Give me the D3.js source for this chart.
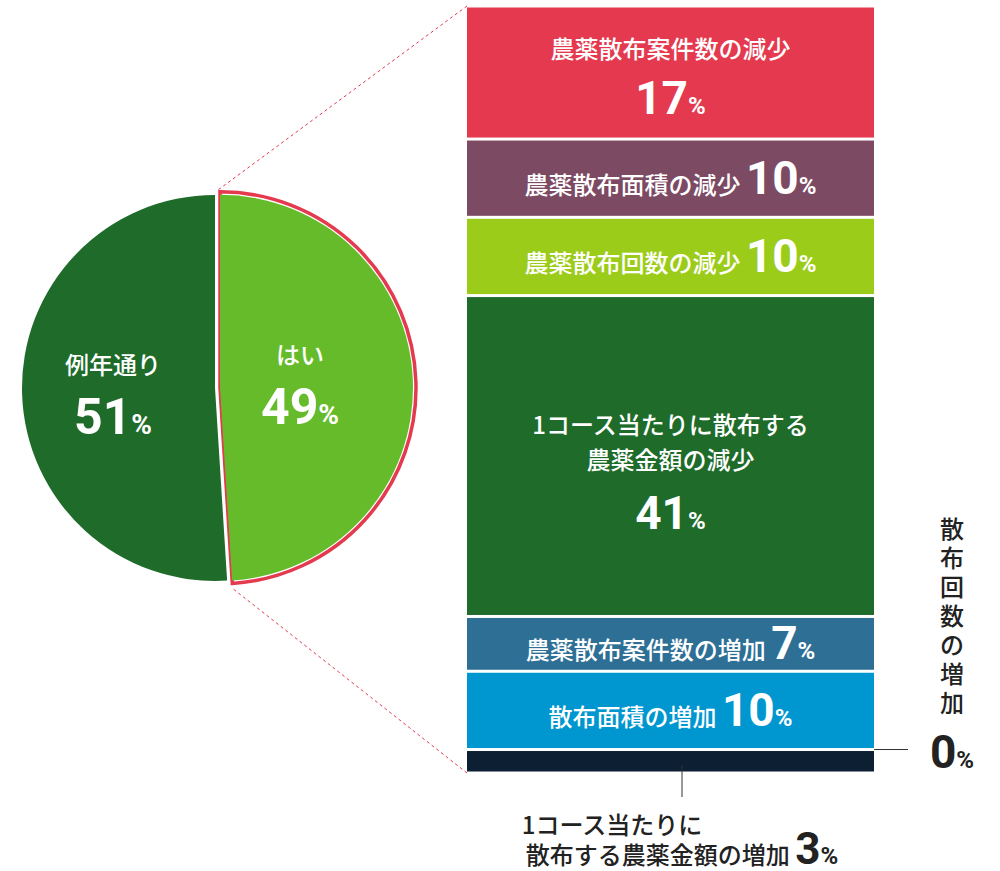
<!DOCTYPE html>
<html><head><meta charset="utf-8">
<script src="https://cdn.jsdelivr.net/npm/d3@7"></script>
<style>
body{margin:0;background:#fff}
text{font-family:"Noto Sans CJK JP",sans-serif;font-weight:500}
.num{font-family:"Liberation Sans Narrow","Roboto",sans-serif;font-weight:bold}
</style></head>
<body><svg id="chart" width="1000" height="871"></svg>
<script>
// Pie data
const pieLabels = ["はい", "例年通り"];
const pieValues = [49, 51];
const pieColors = ["#66bb2a", "#1e6b2a"];

// Breakdown bar data (top to bottom)
const barLabels = ["農薬散布案件数の減少", "農薬散布面積の減少", "農薬散布回数の減少",
  "1コース当たりに散布する|農薬金額の減少", "農薬散布案件数の増加", "散布面積の増加",
  "散布回数の増加", "1コース当たりに|散布する農薬金額の増加"];
const barValues = [17, 10, 10, 41, 7, 10, 0, 3];
const barColors = ["#e4394e", "#7d4a63", "#9ccc1a", "#1e6b2a", "#2e6f96", "#0096d0", "#ffffff", "#0d1f33"];

const svg = d3.select("#chart");

function pct(sel, v, big, small) {
  sel.append("tspan").attr("class", "num").attr("font-size", big).text(v);
  sel.append("tspan").attr("class", "num").attr("font-size", small).text("%");
}

// Pie
const cx = 215, cy = 388, r = 193;
const pie = d3.pie().sort(null).value(d => d)(pieValues);
const arc = d3.arc().innerRadius(0).outerRadius(r);
const pg = svg.append("g").attr("transform", `translate(${cx},${cy})`);

pie.forEach((p, i) => {
  const mid = (p.startAngle + p.endAngle) / 2;
  const off = i === 0 ? 5 : 0;
  const g = pg.append("g")
    .attr("transform", `translate(${Math.sin(mid) * off},${-Math.cos(mid) * off})`);
  if (i === 0) {
    g.append("path")
      .attr("d", d3.arc().innerRadius(0).outerRadius(r + 3)(p))
      .attr("fill", "#fff").attr("stroke", "#e4394e").attr("stroke-width", 3.5);
  }
  g.append("path").attr("d", arc(p)).attr("fill", pieColors[i]);
});

// Pie labels
const pl = [{x: 113, y1: 374, y2: 434}, {x: 300, y1: 364, y2: 424}];
[1, 0].forEach(i => {
  const pos = i === 1 ? pl[0] : pl[1];
  svg.append("text").attr("x", pos.x).attr("y", pos.y1).attr("text-anchor", "middle")
    .attr("fill", "#fff").attr("font-size", 24).text(pieLabels[i]);
  pct(svg.append("text").attr("x", pos.x).attr("y", pos.y2).attr("text-anchor", "middle")
    .attr("fill", "#fff"), pieValues[i], 50, 28);
});

// Stacked bar
const bx = 467, bw = 407;
const total = d3.sum(barValues);
const y = d3.scaleLinear().domain([0, total]).range([6, 773]);
let acc = 0;
const segs = barValues.map((v, i) => {
  const s = {i, v, y0: y(acc), y1: y(acc + v)};
  acc += v;
  return s;
});

// connector dashed lines
svg.append("line").attr("x1", bx).attr("y1", 6).attr("x2", 218).attr("y2", 190)
  .attr("stroke", "#e4394e").attr("stroke-dasharray", "3,3");
svg.append("line").attr("x1", bx).attr("y1", 773).attr("x2", 232).attr("y2", 588)
  .attr("stroke", "#e4394e").attr("stroke-dasharray", "3,3");

segs.filter(s => s.v > 0).forEach(s => {
  svg.append("rect").attr("x", bx).attr("width", bw)
    .attr("y", s.y0 + 1.5).attr("height", Math.max(0, s.y1 - s.y0 - 3))
    .attr("fill", barColors[s.i]);
});

const mx = bx + bw / 2;
function inline(s, dy) {
  const t = svg.append("text").attr("x", mx).attr("y", (s.y0 + s.y1) / 2 + dy)
    .attr("text-anchor", "middle").attr("fill", "#fff");
  t.append("tspan").attr("font-size", 24).text(barLabels[s.i] + " ");
  pct(t, s.v, 46, 24);
}
svg.append("text").attr("x", mx).attr("y", 58).attr("text-anchor", "middle").attr("fill", "#fff")
  .attr("font-size", 24).text(barLabels[0]);
pct(svg.append("text").attr("x", mx).attr("y", 114).attr("text-anchor", "middle").attr("fill", "#fff"), barValues[0], 46, 24);
inline(segs[1], 16);
inline(segs[2], 16);
barLabels[3].split("|").forEach((l, k) => {
  svg.append("text").attr("x", mx).attr("y", 434 + k * 35).attr("text-anchor", "middle").attr("fill", "#fff")
    .attr("font-size", 24).attr("font-weight", 400).text(l);
});
pct(svg.append("text").attr("x", mx).attr("y", 529).attr("text-anchor", "middle").attr("fill", "#fff"), barValues[3], 46, 24);
inline(segs[4], 15);
inline(segs[5], 16);

// 0% label (vertical)
const s6 = segs[6];
svg.append("line").attr("x1", bx + bw).attr("x2", 908).attr("y1", s6.y0).attr("y2", s6.y0)
  .attr("stroke", "#333");
barLabels[6].split("").forEach((c, k) => {
  svg.append("text").attr("x", 952).attr("y", 538 + k * 29).attr("text-anchor", "middle")
    .attr("fill", "#222").attr("font-size", 24).text(c);
});
pct(svg.append("text").attr("x", 952).attr("y", 768).attr("text-anchor", "middle").attr("fill", "#222"), 0, 46, 24);

// 3% label
const s7 = segs[7];
svg.append("line").attr("x1", 682).attr("x2", 682).attr("y1", s7.y1 - 8).attr("y2", 797)
  .attr("stroke", "#333");
const l7 = barLabels[7].split("|");
svg.append("text").attr("x", 612).attr("y", 834).attr("text-anchor", "middle").attr("fill", "#222")
  .attr("font-size", 24).text(l7[0]);
const t7 = svg.append("text").attr("x", 682).attr("y", 864).attr("text-anchor", "middle").attr("fill", "#222");
t7.append("tspan").attr("font-size", 24).text(l7[1] + " ");
pct(t7, barValues[7], 44, 24);
</script></body></html>
